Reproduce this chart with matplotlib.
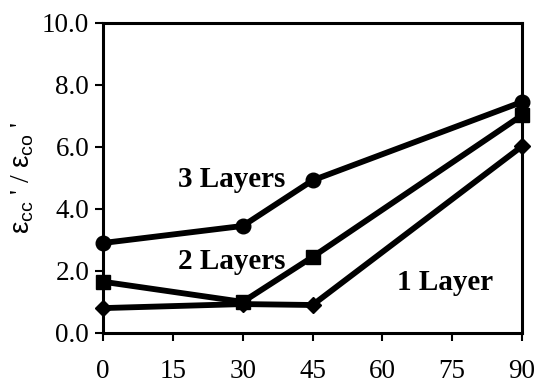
import matplotlib.pyplot as plt

# Data
angles = [0, 30, 45, 90]
layers_3 = [2.9, 3.45, 4.92, 7.45]
layers_2 = [1.65, 1.0, 2.45, 7.02]
layers_1 = [0.8, 0.93, 0.9, 6.02]

x_ticks = [0, 15, 30, 45, 60, 75, 90]
y_ticks = [0, 2, 4, 6, 8, 10]

plt.rcParams['font.family'] = 'Liberation Serif'
plt.rcParams['mathtext.fontset'] = 'custom'
plt.rcParams['mathtext.rm'] = 'Liberation Sans'
plt.rcParams['mathtext.it'] = 'Liberation Sans'

fig = plt.figure(figsize=(5.37, 3.88), dpi=100)
ax = fig.add_axes([0.192, 0.142, 0.780, 0.799])

ax.plot(angles, layers_3, color='black', linewidth=4.2, marker='o', markersize=10.5)
ax.plot(angles, layers_2, color='black', linewidth=4.2, marker='s', markersize=10)
ax.plot(angles, layers_1, color='black', linewidth=4.2, marker='D', markersize=8.5)

ax.text(27.7, 4.95, '3 Layers', fontsize=21, fontweight='bold', ha='center', va='center')
ax.text(27.7, 2.30, '2 Layers', fontsize=21, fontweight='bold', ha='center', va='center')
ax.text(73.5, 1.62, '1 Layer', fontsize=21, fontweight='bold', ha='center', va='center')

ax.set_xlim(0, 90)
ax.set_ylim(0, 10)
ax.set_xticks(x_ticks)
ax.set_yticks(y_ticks)
ax.set_xticklabels([str(t) for t in x_ticks])
ax.set_yticklabels([f'{t:.1f}' for t in y_ticks])
ax.tick_params(direction='out', length=6, width=1.5, labelsize=19.5, pad=4)
ax.tick_params(axis='x', pad=13)

for s in ax.spines.values():
    s.set_linewidth(2.2)
for line in ax.lines:
    line.set_clip_on(False)

ax.set_ylabel(r"$\varepsilon_{cc}$ ' / $\varepsilon_{co}$ '", fontsize=20, labelpad=4)

fig.savefig('out.png', dpi=100)
